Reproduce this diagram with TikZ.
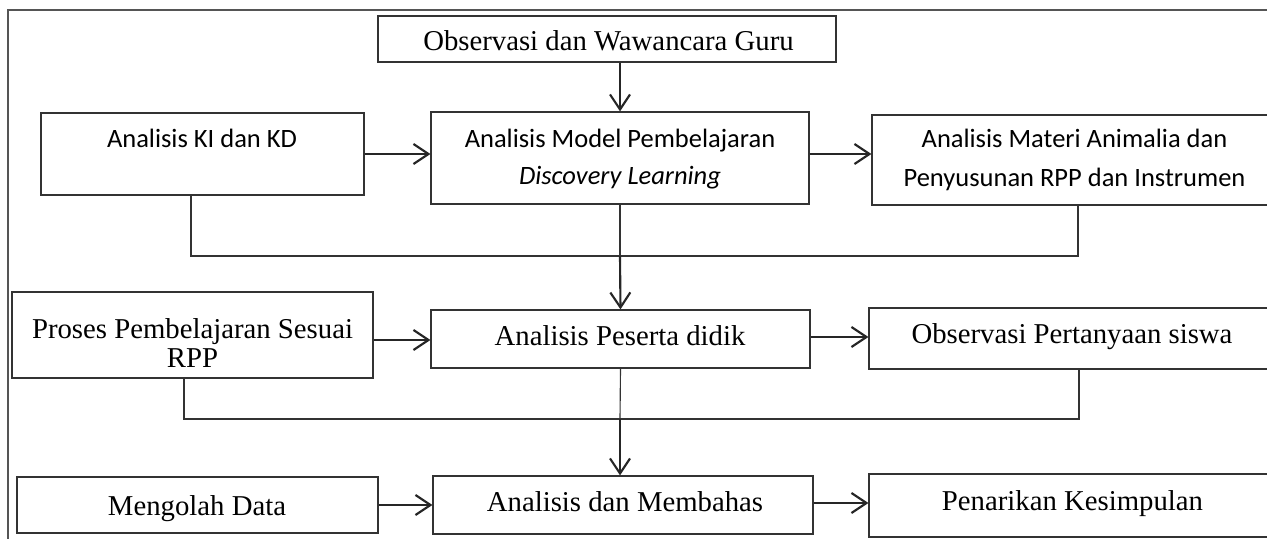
\documentclass[tikz,border=0pt]{standalone}
\usepackage{fontspec}
\setmainfont{Liberation Serif}
\newfontfamily\calfont{Carlito}
\usetikzlibrary{arrows.meta}
\definecolor{linec}{HTML}{333333}
\definecolor{framec}{HTML}{555555}
\tikzset{
  box/.style={draw=linec, line width=0.5pt, rectangle, inner sep=0pt},
  thinline/.style={draw=linec, line width=0.45pt},
  arr/.style={draw=black!85, line width=0.85pt, -{Straight Barb[length=6pt,width=8pt,line width=0.85pt]}},
  serif/.style={anchor=base, inner sep=0pt, font=\fontsize{11.5}{11.5}\selectfont},
  sans/.style={anchor=base, inner sep=0pt, font=\calfont\fontsize{10.6}{12}\selectfont},
}
\begin{document}
\begin{tikzpicture}[x=0.4pt, y=-0.4pt]
\useasboundingbox (0,0) rectangle (1267,539);
\clip (0,0) rectangle (1267,539);
% frame
\draw[draw=framec, line width=0.45pt] (8,539) -- (8,10) -- (1280,10);
% boxes
\node[box, minimum width=458*0.4pt, minimum height=46*0.4pt] (obs) at (607,39) {};
\node[box, minimum width=323*0.4pt, minimum height=82*0.4pt] (ki) at (202.5,154) {};
\node[box, minimum width=378*0.4pt, minimum height=92*0.4pt] (model) at (620,158) {};
\node[box, minimum width=405*0.4pt, minimum height=90*0.4pt] (materi) at (1074.5,160) {};
\node[box, minimum width=361*0.4pt, minimum height=86*0.4pt] (proses) at (192.5,335) {};
\node[box, minimum width=379*0.4pt, minimum height=58*0.4pt] (peserta) at (620.5,339) {};
\node[box, minimum width=406*0.4pt, minimum height=61*0.4pt] (obsper) at (1072,338.5) {};
\node[box, minimum width=361*0.4pt, minimum height=56*0.4pt] (mengolah) at (197.5,505) {};
\node[box, minimum width=380*0.4pt, minimum height=58*0.4pt] (membahas) at (623,505) {};
\node[box, minimum width=407*0.4pt, minimum height=63*0.4pt] (penarikan) at (1072.5,505.5) {};
% texts
\node[serif] (tobs) at (608.5,51) {Observasi dan Wawancara Guru};
\node[sans] (tki) at (202,148) {Analisis KI dan KD};
\node[sans] (tmodela) at (620,148) {Analisis Model Pembelajaran};
\node[sans] (tmodelb) at (620,185) {\itshape Discovery Learning};
\node[sans] (tmateria) at (1074.5,148) {Analisis Materi Animalia dan};
\node[sans] (tmaterib) at (1074.5,187) {Penyusunan RPP dan Instrumen};
\node[serif] (tprosesa) at (192.5,338) {Proses Pembelajaran Sesuai};
\node[serif] (tprosesb) at (192.5,367) {RPP};
\node[serif] (tpeserta) at (620,345) {Analisis Peserta didik};
\node[serif] (tobsper) at (1072,343) {Observasi Pertanyaan siswa};
\node[serif] (tmengolah) at (197,515) {Mengolah Data};
\node[serif] (tmembahas) at (625,511) {Analisis dan Membahas};
\node[serif] (tpenarikan) at (1072.5,510) {Penarikan Kesimpulan};
% junctions
\coordinate (j1) at (620,256);
\coordinate (j2) at (620,419);
% connectors row 1
\draw[arr] (model.north |- obs.south) -- (model.north);
\draw[arr] (ki.east) -- (ki.east -| model.west);
\draw[arr] (model.east |- ki.east) -- (materi.west |- ki.east);
\draw[thinline] (191,0 |- ki.south) |- (j1) -| (1078,0 |- materi.south);
\draw[thinline] (model.south) -- (j1);
\draw[arr] (j1) -- (peserta.north);
% row 2
\draw[arr] (proses.east |- 0,340) -- (peserta.west |- 0,340);
\draw[arr] (peserta.east |- 0,337) -- (obsper.west |- 0,337);
\draw[thinline] (184,0 |- proses.south) |- (j2) -| (1079,0 |- obsper.south);
\draw[thinline] (peserta.south) -- (j2);
\draw[arr] (j2) -- (j2 |- membahas.north);
% row 3
\draw[arr] (mengolah.east) -- (mengolah.east -| membahas.west);
\draw[arr] (membahas.east |- 0,503) -- (penarikan.west |- 0,503);
\end{tikzpicture}
\end{document}
